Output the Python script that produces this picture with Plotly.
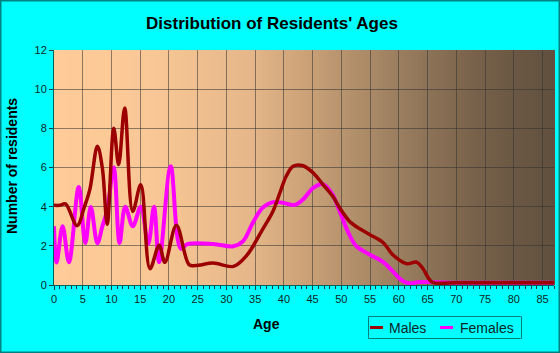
import plotly.graph_objects as go

# ---- data ----
male_age = [0, 1, 2.0, 4.0, 5.3, 6.25, 7.55, 8.4, 9.26, 10.4, 11.25, 12.3, 13.7, 15.1, 16.7,
            18.3, 19.3, 21.3, 23.5, 24.65, 27.7, 31.2, 33.5, 36.3, 38.1, 39.3, 40.4, 41.6, 43.2,
            45.0, 46.8, 48.5, 49.7, 51.4, 53.2, 54.9, 57.3, 58.9, 61.3, 63.1, 64.1, 65.3, 66.0,
            70, 75, 80, 87]
male_val = [4.07, 4.07, 4.14, 3.03, 4.0, 4.9, 7.08, 6.0, 3.1, 8.0, 6.15, 9.04, 3.76, 5.12, 0.83,
            2.03, 1.16, 3.05, 1.04, 0.99, 1.12, 0.95, 1.5, 2.84, 3.77, 4.7, 5.55, 6.06, 6.1,
            5.75, 5.13, 4.53, 3.94, 3.26, 2.87, 2.58, 2.16, 1.56, 1.09, 1.17, 0.88, 0.29, 0.12,
            0.12, 0.12, 0.12, 0.12]

female_age = [0, 0.45, 1.5, 2.6, 4.3, 5.45, 6.4, 7.55, 8.4, 9.26, 10.4, 11.4, 12.4, 13.7, 15.1,
              16.4, 17.4, 18.3, 20.3, 22.05, 23.2, 27.7, 31.2, 32.9, 34.6, 36.3, 38.1, 39.8,
              41.9, 43.3, 45.1, 46.7, 48.3, 49.7, 51.1, 52.6, 54.9, 57.3, 58.9, 60.7, 61.8,
              63.6, 66.5, 70, 80, 87]
female_val = [3.0, 1.15, 3.0, 1.16, 5.0, 2.14, 3.98, 2.14, 2.98, 3.83, 6.0, 2.14, 4.0, 3.0, 4.0,
              2.1, 4.0, 1.17, 6.06, 1.86, 2.09, 2.1, 1.98, 2.24, 3.18, 3.94, 4.23, 4.2,
              4.09, 4.36, 4.96, 5.16, 4.7, 3.77, 2.75, 1.98, 1.56, 1.17, 0.71, 0.2, 0.09,
              0.15, 0.14, 0.12, 0.12, 0.12]

series_names = ["Males", "Females"]
series_colors = ["#9c0000", "#ff00ff"]

x_ticks = list(range(0, 90, 5))
y_ticks = list(range(0, 14, 2))

# ---- layout constants ----
W, H = 560, 353
L, R, T, B = 54, 6, 50, 68
PW, PH = W - L - R, H - T - B
BOT = T + PH
FONT = "Arial, Liberation Sans, sans-serif"
TXT = "#0d2626"


def px_x(px):
    return (px - L) / PW


def px_y(py):
    return (BOT - py) / PH


fig = go.Figure()
fig.add_trace(go.Scatter(x=female_age, y=female_val, name=series_names[1], mode="lines",
                         line=dict(color=series_colors[1], width=4, shape="spline", smoothing=1.0)))
fig.add_trace(go.Scatter(x=male_age, y=male_val, name=series_names[0], mode="lines",
                         line=dict(color=series_colors[0], width=3.5, shape="spline", smoothing=1.0)))

# gradient background of the plotting area
stops = [(0.0, (255, 204, 153)), (0.2, (249, 199, 149)), (0.4, (228, 182, 137)),
         (0.5, (204, 162, 120)), (0.7, (152, 124, 94)), (0.85, (118, 96, 73)), (1.0, (96, 80, 62))]


def col(t):
    for (t0, c0), (t1, c1) in zip(stops[:-1], stops[1:]):
        if t <= t1:
            f = (t - t0) / (t1 - t0)
            return "rgb(%d,%d,%d)" % tuple(round(a + (b - a) * f) for a, b in zip(c0, c1))
    return "rgb(%d,%d,%d)" % stops[-1][1]


N = 125
shapes = []
for i in range(N):
    shapes.append(dict(type="rect", xref="paper", yref="paper", x0=i / N, x1=(i + 1) / N + 0.002,
                       y0=0, y1=1, fillcolor=col((i + 0.5) / N), line=dict(width=0), layer="below"))
# page border
shapes.append(dict(type="rect", xref="paper", yref="paper",
                   x0=px_x(0.75), x1=px_x(W - 0.75), y0=px_y(H - 0.75), y1=px_y(0.75),
                   line=dict(color="#008080", width=1.5), layer="above"))

# legend box (drawn by hand to match the compact original)
shapes.append(dict(type="rect", xref="paper", yref="paper",
                   x0=px_x(368.5), x1=px_x(521.5), y0=px_y(338.5), y1=px_y(316.5),
                   line=dict(color="#008080", width=1), layer="above"))
legend_items = [(370, 386.5), (440, 457.5)]
annotations = []
for (lx, tx), name, c in zip(legend_items, series_names, series_colors):
    shapes.append(dict(type="line", xref="paper", yref="paper", x0=px_x(lx), x1=px_x(lx + 13),
                       y0=px_y(327.5), y1=px_y(327.5), line=dict(color=c, width=3), layer="above"))
    annotations.append(dict(text=name, xref="paper", yref="paper", x=px_x(tx), y=px_y(328),
                            showarrow=False, xanchor="left", yanchor="middle",
                            font=dict(family=FONT, size=14, color=TXT)))

annotations += [
    dict(text="<b>Age</b>", xref="paper", yref="paper", x=px_x(266), y=px_y(324),
         showarrow=False, font=dict(family=FONT, size=14, color="#000"), xanchor="center", yanchor="middle"),
    dict(text="<b>Number of residents</b>", xref="paper", yref="paper", x=px_x(12),
         y=px_y(166), textangle=-90, showarrow=False,
         font=dict(family=FONT, size=14, color="#000"), xanchor="center", yanchor="middle"),
]

fig.update_layout(
    width=W, height=H, autosize=False,
    margin=dict(l=L, r=R, t=T, b=B),
    paper_bgcolor="#00ffff", plot_bgcolor="rgba(0,0,0,0)",
    shapes=shapes,
    title=dict(text="<b>Distribution of Residents' Ages</b>", font=dict(family=FONT, size=17, color="#000"),
               x=px_x(272), xref="paper", xanchor="center", y=1 - 23 / H, yref="container", yanchor="middle"),
    showlegend=False,
    annotations=annotations,
)

fig.update_xaxes(range=[0, 87], tickvals=x_ticks, ticks="outside", ticklen=4, tickcolor="#204040",
                 showgrid=True, gridcolor="rgba(50,50,50,0.55)", gridwidth=1,
                 showline=True, linecolor="#006060", linewidth=1, zeroline=False,
                 tickfont=dict(family=FONT, size=11, color=TXT),
                 minor=dict(dtick=1, ticks="outside", ticklen=3, tickcolor="#204040", showgrid=False))
fig.update_yaxes(range=[0, 12], tickvals=y_ticks, ticks="outside", ticklen=4, tickcolor="#204040",
                 showgrid=True, gridcolor="rgba(50,50,50,0.55)", gridwidth=1,
                 showline=True, linecolor="#006060", linewidth=1, zeroline=False,
                 tickfont=dict(family=FONT, size=11, color=TXT))

fig.write_html("out.html")
